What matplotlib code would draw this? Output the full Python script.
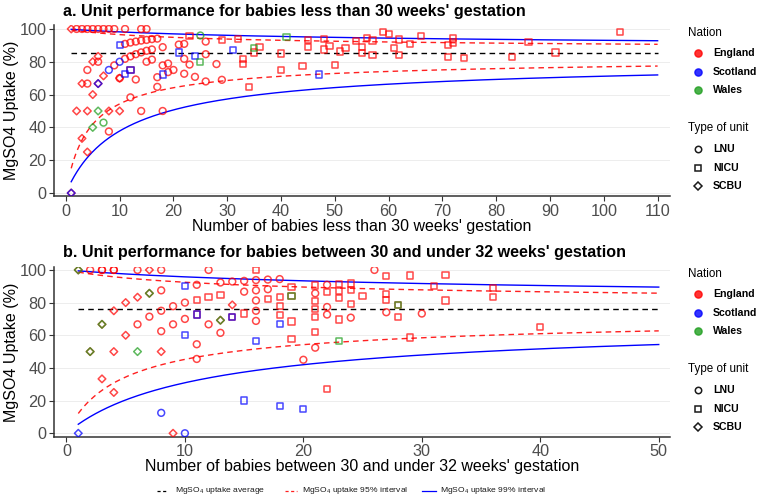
import numpy as np
import matplotlib
matplotlib.use("Agg")
import matplotlib.pyplot as plt
from matplotlib.lines import Line2D

plt.rcParams['font.family'] = ['Liberation Sans', 'DejaVu Sans']
plt.rcParams['mathtext.default'] = 'regular'

# ---------------- Panel a: babies < 30 weeks (n babies, % uptake) ----------------
a_eng_lnu_n = [2, 3, 4, 5, 6, 7, 8, 9, 11, 14, 15,
               11, 12, 13, 14, 15, 16, 17, 21, 22, 26, 26,
               9, 11, 12, 13, 14, 15, 16, 18, 15, 16,
               18, 19, 19, 20, 22, 22, 23, 24, 26, 28, 29,
               17, 17, 13, 10, 6, 4, 4, 12, 14, 18, 8]
a_eng_lnu_pct = [100, 100, 100, 100, 100, 100, 100, 100, 100, 100, 100,
                 90.9, 91.7, 92.3, 92.9, 93.3, 93.8, 94.1, 90.5, 90.9, 92.3, 84.6,
                 77.8, 81.8, 83.3, 84.6, 85.7, 86.7, 87.5, 88.9, 80, 81.3,
                 77.8, 78.9, 73.7, 75, 72.7, 81.8, 78.3, 70.8, 68, 78.6, 69,
                 70.6, 64.7, 69.2, 70, 80, 75, 66.7, 58.3, 50, 50, 37.5]
a_eng_nicu_n = [23, 12, 29, 32, 45, 48, 49, 51, 45, 48, 36, 35, 33, 33, 40, 44, 40, 50, 34,
                52, 54, 55, 55, 56, 57, 57, 59, 60, 61, 62, 62, 64, 66, 71, 71, 72, 72,
                74, 83, 86, 91, 103]
a_eng_nicu_pct = [95.7, 75, 93.1, 93.8, 93.3, 93.8, 89.8, 86.3, 88.9, 87.5, 88.9, 85.7, 81.8,
                  78.8, 85, 77.3, 75, 78, 64.7,
                  88.5, 92.6, 89.1, 85.5, 94.6, 93, 84.2, 98.3, 96.7, 88.5, 93.5, 83.9, 90.6,
                  95.5, 90.1, 83.1, 94.4, 91.7, 82.4, 83.1, 91.9, 85.7, 98.1]
a_eng_scbu_n = [1, 10, 7, 6, 5, 6, 3, 5, 2, 4, 8, 10, 3, 4, 1]
a_eng_scbu_pct = [100, 70, 71.4, 66.7, 80, 83.3, 66.7, 60, 50, 50, 50, 50, 33.3, 25, 0]
a_sco_lnu_n = [10, 8]
a_sco_lnu_pct = [80, 75]
a_sco_nicu_n = [10, 21, 24, 18, 11, 12, 31, 47]
a_sco_nicu_pct = [90, 85.7, 83.3, 72.2, 72.7, 75, 87.1, 72.3]
a_sco_scbu_n = [6, 1]
a_sco_scbu_pct = [66.7, 0]
a_wal_lnu_n = [25, 7]
a_wal_lnu_pct = [96, 42.9]
a_wal_nicu_n = [25, 41, 35]
a_wal_nicu_pct = [80, 95.1, 88.6]
a_wal_scbu_n = [6, 5]
a_wal_scbu_pct = [50, 40]
a_average = 85.2
a_nmax = 110

# ---------------- Panel b: babies 30 to <32 weeks ----------------
b_eng_lnu_n = [2, 3, 3, 4, 4, 6, 8, 8, 9, 8, 7, 6, 10, 10, 9, 8,
               12, 16, 17, 18, 11, 13, 14, 15, 15, 16, 17, 12, 13, 11, 11, 16, 16, 16,
               20, 21, 21, 22, 22, 22, 24, 26, 27, 30]
b_eng_lnu_pct = [100, 100, 100, 100, 100, 100, 100, 87.5, 77.8, 75, 71.4, 66.7, 80, 70, 66.7, 62.5,
                 100, 93.8, 94.1, 94.4, 90.9, 92.3, 92.9, 93.3, 86.7, 87.5, 88.2, 66.7, 61.5,
                 54.5, 45.5, 75, 68.8, 81.3, 45, 85.7, 52.4, 90.9, 77.3, 72.7, 70.8, 100, 74.1, 73.3]
b_eng_nicu_n = [16, 17, 11, 12, 13, 11, 14, 15, 18, 18, 18, 19, 19, 19, 19, 21, 21, 21, 21, 21,
                22, 22, 23, 23, 23, 23, 24, 24, 24, 25, 27, 27, 27, 28, 28, 29, 29, 31, 32, 32,
                36, 36, 40]
b_eng_nicu_pct = [100, 82.4, 81.8, 83.3, 84.6, 72.7, 71.4, 73.3, 83.3, 77.8, 72.2, 89.5, 84.2,
                  68.4, 57.9, 90.5, 81, 76.2, 71.4, 61.9, 86.4, 27.3, 91.3, 87, 82.6, 69.6,
                  91.7, 87.5, 79.2, 84, 96.3, 85.2, 81.5, 78.6, 71.4, 96.6, 58.6, 90.3, 96.9,
                  81.3, 88.9, 83.3, 65]
b_eng_scbu_n = [1, 7, 7, 6, 5, 4, 5, 3, 2, 4, 8, 3, 4, 9, 14, 13]
b_eng_scbu_pct = [100, 100, 85.7, 83.3, 80, 75, 60, 66.7, 50, 50, 50, 33.3, 25, 0, 78.6, 69.2]
b_sco_lnu_n = [8, 10]
b_sco_lnu_pct = [12.5, 0]
b_sco_nicu_n = [10, 10, 11, 14, 18, 16, 15, 18, 20]
b_sco_nicu_pct = [90, 60, 72.7, 71.4, 66.7, 56.3, 20, 16.7, 15]
b_sco_scbu_n = [1]
b_sco_scbu_pct = [0]
b_wal_nicu_n = [19, 28, 23]
b_wal_nicu_pct = [84.2, 78.6, 56.5]
b_wal_scbu_n = [1, 7, 3, 2, 13, 6]
b_wal_scbu_pct = [100, 85.7, 66.7, 50, 69.2, 50]
b_average = 76.1
b_nmax = 50

Z95 = 1.96
Z99 = 3.09

nation_colors = {'England': '#FF0000', 'Scotland': '#0000FF', 'Wales': '#1E9E1E'}
unit_markers = {'LNU': 'o', 'NICU': 's', 'SCBU': 'D'}
unit_sizes = {'LNU': 24, 'NICU': 20, 'SCBU': 15}

W, H = 760, 500
fig = plt.figure(figsize=(W / 100, H / 100), dpi=100)


def fx(px):
    return px / W


def fy(py):
    return 1 - py / H


def wilson(p, n, z):
    c = (p + z ** 2 / (2 * n)) / (1 + z ** 2 / n)
    h = z / (1 + z ** 2 / n) * np.sqrt(p * (1 - p) / n + z ** 2 / (4 * n ** 2))
    return (c - h) * 100, (c + h) * 100


def draw_panel(rect, groups, average, nmax, xlim, ylim, xticks):
    ax = fig.add_axes(rect)
    ax.set_xlim(*xlim)
    ax.set_ylim(*ylim)
    for yv in range(0, 101, 20):
        ax.axhline(yv, color='#EDEDED', lw=0.7, zorder=0)
    nn = np.linspace(1, nmax, 400)
    lo95, hi95 = wilson(average / 100, nn, Z95)
    lo99, hi99 = wilson(average / 100, nn, Z99)
    ax.plot([1, nmax], [average, average], color='black', lw=1.0, ls=(0, (4, 3)), zorder=2)
    ax.plot(nn, lo95, color='#FF2020', lw=1.0, ls=(0, (4, 3)), zorder=2)
    ax.plot(nn, hi95, color='#FF2020', lw=1.0, ls=(0, (4, 3)), zorder=2)
    ax.plot(nn, lo99, color='#0000FF', lw=1.0, zorder=2)
    ax.plot(nn, hi99, color='#0000FF', lw=1.0, zorder=2)
    for nation, unit, xs, ys in groups:
        ax.scatter(xs, ys, s=unit_sizes[unit], marker=unit_markers[unit],
                   facecolors='none', edgecolors=nation_colors[nation],
                   linewidths=1.1, alpha=0.72, zorder=3)
    for side in ['top', 'right']:
        ax.spines[side].set_visible(False)
    for side in ['left', 'bottom']:
        ax.spines[side].set_color('#333333')
        ax.spines[side].set_linewidth(1.1)
    ax.set_xticks(xticks)
    ax.set_yticks(range(0, 101, 20))
    ax.tick_params(axis='both', length=3.5, width=0.8, color='#333333',
                   labelsize=11.7, labelcolor='#4D4D4D', pad=2)
    return ax


groups_a = [
    ('England', 'LNU', a_eng_lnu_n, a_eng_lnu_pct),
    ('England', 'NICU', a_eng_nicu_n, a_eng_nicu_pct),
    ('England', 'SCBU', a_eng_scbu_n, a_eng_scbu_pct),
    ('Scotland', 'LNU', a_sco_lnu_n, a_sco_lnu_pct),
    ('Scotland', 'NICU', a_sco_nicu_n, a_sco_nicu_pct),
    ('Scotland', 'SCBU', a_sco_scbu_n, a_sco_scbu_pct),
    ('Wales', 'LNU', a_wal_lnu_n, a_wal_lnu_pct),
    ('Wales', 'NICU', a_wal_nicu_n, a_wal_nicu_pct),
    ('Wales', 'SCBU', a_wal_scbu_n, a_wal_scbu_pct),
]
groups_b = [
    ('England', 'LNU', b_eng_lnu_n, b_eng_lnu_pct),
    ('England', 'NICU', b_eng_nicu_n, b_eng_nicu_pct),
    ('England', 'SCBU', b_eng_scbu_n, b_eng_scbu_pct),
    ('Scotland', 'LNU', b_sco_lnu_n, b_sco_lnu_pct),
    ('Scotland', 'NICU', b_sco_nicu_n, b_sco_nicu_pct),
    ('Scotland', 'SCBU', b_sco_scbu_n, b_sco_scbu_pct),
    ('Wales', 'NICU', b_wal_nicu_n, b_wal_nicu_pct),
    ('Wales', 'SCBU', b_wal_scbu_n, b_wal_scbu_pct),
]

# panel rectangles from pixel boxes
a_box = (54, 25, 670, 196)
b_box = (54, 267, 670, 436.7)


def rect_of(box):
    l, t, r, b = box
    return [fx(l), fy(b), fx(r) - fx(l), fy(t) - fy(b)]


ax_a = draw_panel(rect_of(a_box), groups_a, a_average, a_nmax,
                  (-2.2, 112.3), (-1.8, 102.4), range(0, 111, 10))
ax_b = draw_panel(rect_of(b_box), groups_b, b_average, b_nmax,
                  (-1.05, 50.95), (-2.1, 101.8), range(0, 51, 10))

# titles and axis titles
fig.text(fx(63), fy(11.5), "a. Unit performance for babies less than 30 weeks' gestation",
         fontsize=11.6, fontweight='bold', ha='left', va='center')
fig.text(fx(63), fy(252.5), "b. Unit performance for babies between 30 and under 32 weeks' gestation",
         fontsize=11.6, fontweight='bold', ha='left', va='center')
fig.text(fx(362), fy(226), "Number of babies less than 30 weeks' gestation",
         fontsize=11.5, ha='center', va='center')
fig.text(fx(362), fy(466.5), "Number of babies between 30 and under 32 weeks' gestation",
         fontsize=11.5, ha='center', va='center')
fig.text(fx(12), fy(110), "MgSO4 Uptake (%)", rotation=90, fontsize=11.5, ha='center', va='center')
fig.text(fx(12), fy(352), "MgSO4 Uptake (%)", rotation=90, fontsize=11.5, ha='center', va='center')


# right-hand legends
def side_legend(y_nation, y_type):
    fig.text(fx(688), fy(y_nation), "Nation", fontsize=8.4, ha='left', va='center')
    for i, nat in enumerate(['England', 'Scotland', 'Wales']):
        yy = y_nation + 20 + i * 18.7
        fig.add_artist(Line2D([fx(698)], [fy(yy)], marker='o', ms=5.2, ls='none',
                              mfc=nation_colors[nat], mec=nation_colors[nat], alpha=0.8))
        fig.text(fx(713), fy(yy), nat, fontsize=7.6, fontweight='bold', ha='left', va='center')
    fig.text(fx(688), fy(y_type), "Type of unit", fontsize=8.4, ha='left', va='center')
    for i, unit in enumerate(['LNU', 'NICU', 'SCBU']):
        yy = y_type + 21 + i * 18.7
        ms = {'LNU': 4.6, 'NICU': 4.2, 'SCBU': 3.8}[unit]
        fig.add_artist(Line2D([fx(698)], [fy(yy)], marker=unit_markers[unit], ms=ms, ls='none',
                              mfc='none', mec='#1A1A1A', mew=1.1))
        fig.text(fx(713), fy(yy), unit, fontsize=7.6, fontweight='bold', ha='left', va='center')


side_legend(33, 128)
side_legend(274, 369)

# bottom line legend
yl = 491
items = [((156.7, 168.3), 175, 'black', (0, (2.5, 2)), 'MgSO$_4$ uptake average'),
         ((285, 297), 302, '#FF2020', (0, (2.5, 2)), 'MgSO$_4$ uptake 95% interval'),
         ((421.7, 436), 440, '#0000FF', '-', 'MgSO$_4$ uptake 99% interval')]
for (x0, x1), xt, col, ls, lab in items:
    fig.add_artist(Line2D([fx(x0), fx(x1)], [fy(yl), fy(yl)], color=col, lw=0.9, ls=ls))
    fig.text(fx(xt), fy(yl), lab, fontsize=6.1, ha='left', va='center', color='#1A1A1A')

fig.savefig("out.png", dpi=100)
